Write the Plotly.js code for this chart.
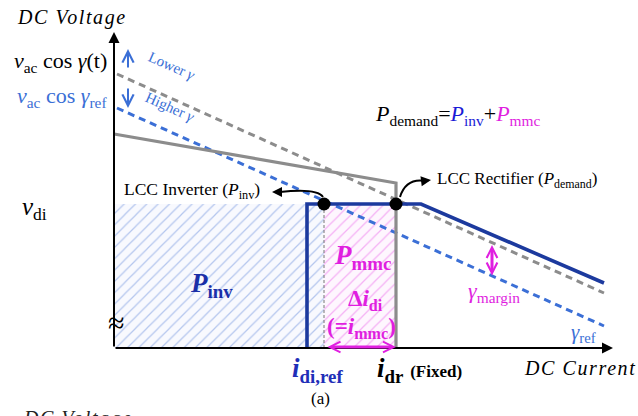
<!DOCTYPE html>
<html>
<head>
<meta charset="utf-8">
<script src="https://cdn.plot.ly/plotly-3.0.1.min.js"></script>
<style>html,body{margin:0;padding:0;background:#fff;}</style>
</head>
<body>
<div id="chart" style="width:638px;height:416px"></div>
<script>
// V-I characteristics, DC current on x, DC voltage on y (arbitrary units)
const lowerGammaI = [3, 490];
const lowerGammaV = [274, 55];
const refGammaI = [3, 490];
const refGammaV = [240, 22];
const rectifierI = [0, 282, 282];
const rectifierV = [214, 165, 0];
const inverterI = [193, 193, 307, 490];
const inverterV = [0, 144, 144, 65];
const idiRef = 210;   // i_di,ref
const idr = 282;      // i_dr (fixed)
const vdi = 144;      // v_di
const operatingI = [idiRef, idr];
const operatingV = [vdi, vdi];

const SERIF = '"Liberation Serif", "Times New Roman", Tinos, serif';
const GRAY = '#8c8c8c';
const LBLUE = '#3b6fd6';
const NAVY = '#1c3a9e';
const MAG = '#e01fe0';

const traces = [
  { // inverter power area
    type: 'bar', x: [idiRef / 2], y: [vdi], width: [idiRef], base: 0,
    marker: { color: '#f8f9fe', line: { width: 0 },
      pattern: { shape: '/', fgcolor: '#b4c6ee', bgcolor: '#f8f9fe', size: 8, solidity: 0.15 } },
    hoverinfo: 'skip'
  },
  { // MMC power area
    type: 'bar', x: [(idiRef + idr) / 2], y: [vdi], width: [idr - idiRef], base: 0,
    marker: { color: '#fef6fe', line: { width: 0 },
      pattern: { shape: '/', fgcolor: '#f5b0f5', bgcolor: '#fef6fe', size: 8, solidity: 0.15 } },
    hoverinfo: 'skip'
  },
  { type: 'scatter', mode: 'lines', x: [idiRef, idiRef], y: [0, vdi],
    line: { color: '#777', width: 1, dash: '3px,2px' } },
  { type: 'scatter', mode: 'lines', x: lowerGammaI, y: lowerGammaV,
    line: { color: GRAY, width: 3, dash: '7px,5px' } },
  { type: 'scatter', mode: 'lines', x: refGammaI, y: refGammaV,
    line: { color: LBLUE, width: 3, dash: '7px,5px' } },
  { type: 'scatter', mode: 'lines', x: rectifierI, y: rectifierV,
    line: { color: GRAY, width: 3.2 } },
  { type: 'scatter', mode: 'lines', x: inverterI, y: inverterV,
    line: { color: NAVY, width: 3.6 } },
  { type: 'scatter', mode: 'markers', x: operatingI, y: operatingV,
    marker: { color: '#000', size: 13 } }
];

function arrow(x0, y0, x1, y1, color, width, head, size, both) {
  const a = { x: x1, y: y1, ax: x0, ay: y0, xref: 'x', yref: 'y', axref: 'x', ayref: 'y',
    text: '', showarrow: true, arrowcolor: color, arrowwidth: width,
    arrowhead: head, arrowsize: size, standoff: 0, startstandoff: 0 };
  if (both) { a.arrowside = 'end+start'; a.startarrowhead = head; a.startarrowsize = size; }
  return a;
}
function label(x, y, text, size, color, anchor, extra) {
  return Object.assign({ x: x, y: y, xref: 'x', yref: 'y', text: text, showarrow: false,
    xanchor: anchor || 'center', yanchor: 'middle',
    font: { family: SERIF, size: size, color: color } }, extra || {});
}
const spaced = (t) => '<span style="letter-spacing:1.6px"><i>' + t + '</i></span>';

const annotations = [
  // axes
  arrow(0, 0, 0, 316, '#000', 2, 2, 1.1),
  arrow(0, 0, 499, 0, '#000', 2, 2, 1.1),
  // gamma shift hints
  arrow(14, 279, 14, 299, LBLUE, 2, 5, 1.1),
  arrow(14, 261, 14, 240, LBLUE, 2, 5, 1.1),
  // curved-arrow heads
  arrow(168, 156, 158, 156, '#000', 2, 2, 1),
  arrow(309, 167, 317, 168, '#000', 2, 2, 1),
  // current / margin spans
  arrow(212, 1, 282, 1, MAG, 3, 5, 0.7, true),
  arrow(378, 71, 378, 103, MAG, 3, 5, 0.7, true),

  label(-42, 331, spaced('DC Voltage'), 20, '#000', 'center'),
  label(466, -20, spaced('DC Current'), 20, '#000', 'center'),
  { x: -36, y: 0.026, xref: 'x', yref: 'paper', yanchor: 'top', xanchor: 'center',
    showarrow: false, text: spaced('DC Voltage'), font: { family: SERIF, size: 20, color: '#222' } },
  label(-5, 286, '<i>v</i><sub>ac</sub> cos <i>γ</i>(t)', 22, '#000', 'right'),
  label(-5, 251, '<i>v</i><sub>ac</sub> cos <i>γ</i><sub>ref</sub>', 22, LBLUE, 'right'),
  label(-65, 140, '<i>v</i><sub>di</sub>', 25, '#000', 'right'),
  label(2, 26, '≈', 30, '#000', 'center'),
  label(58, 282, 'Lower <i>γ</i>', 15, LBLUE, 'center', { textangle: 24 }),
  label(56, 241, 'Higher <i>γ</i>', 15, LBLUE, 'center', { textangle: 24 }),
  label(344, 233, '<i>P</i><sub>demand</sub>=<span style="color:#1a1ad6"><i>P</i><sub>inv</sub></span>+<span style="color:' + MAG + '"><i>P</i><sub>mmc</sub></span>', 22, '#000', 'center'),
  label(78, 158, 'LCC Inverter (<i>P</i><sub>inv</sub>)', 17.5, '#000', 'center'),
  label(403, 168, 'LCC Rectifier (<i>P</i><sub>demand</sub>)', 17, '#000', 'center'),
  label(97, 63, '<b><i>P</i></b><sub><b>inv</b></sub>', 27, '#1a2fa8', 'center'),
  label(248, 91, '<b><i>P</i></b><sub><b>mmc</b></sub>', 27, MAG, 'center'),
  label(251, 48, '<b>Δ<i>i</i></b><sub><b>di</b></sub>', 23, MAG, 'center'),
  label(247, 20, '<b>(=<i>i</i></b><sub><b>mmc</b></sub><b>)</b>', 23, MAG, 'center'),
  label(380, 56, '<i>γ</i><sub>margin</sub>', 22, MAG, 'center'),
  label(469, 15, '<i>γ</i><sub>ref</sub>', 21, LBLUE, 'center'),
  label(203, -22, '<b><i>i</i></b><sub><b>di,ref</b></sub>', 27, '#1f2fb8', 'center'),
  label(261, -22, '<b><i>i</i></b><sub><b>dr</b></sub> <span style="font-size:17px"><b>(Fixed)</b></span>', 27, '#000', 'left'),
  label(206, -50, '(a)', 17, '#000', 'center')
];

const shapes = [
  { type: 'path', xref: 'x', yref: 'y', path: 'M 209,151 Q 203,160 166,156',
    line: { color: '#000', width: 2 } },
  { type: 'path', xref: 'x', yref: 'y', path: 'M 286,151 Q 292,170 311,167',
    line: { color: '#000', width: 2 } }
];

const layout = {
  width: 638, height: 416,
  margin: { l: 0, r: 0, t: 0, b: 0 },
  paper_bgcolor: '#fff', plot_bgcolor: '#fff',
  font: { family: SERIF },
  showlegend: false, barmode: 'overlay',
  xaxis: { range: [-114, 524], visible: false, fixedrange: true },
  yaxis: { range: [-68, 348], visible: false, fixedrange: true },
  annotations: annotations, shapes: shapes
};

Plotly.newPlot('chart', traces, layout, { displayModeBar: false, staticPlot: true });
</script>
</body>
</html>
